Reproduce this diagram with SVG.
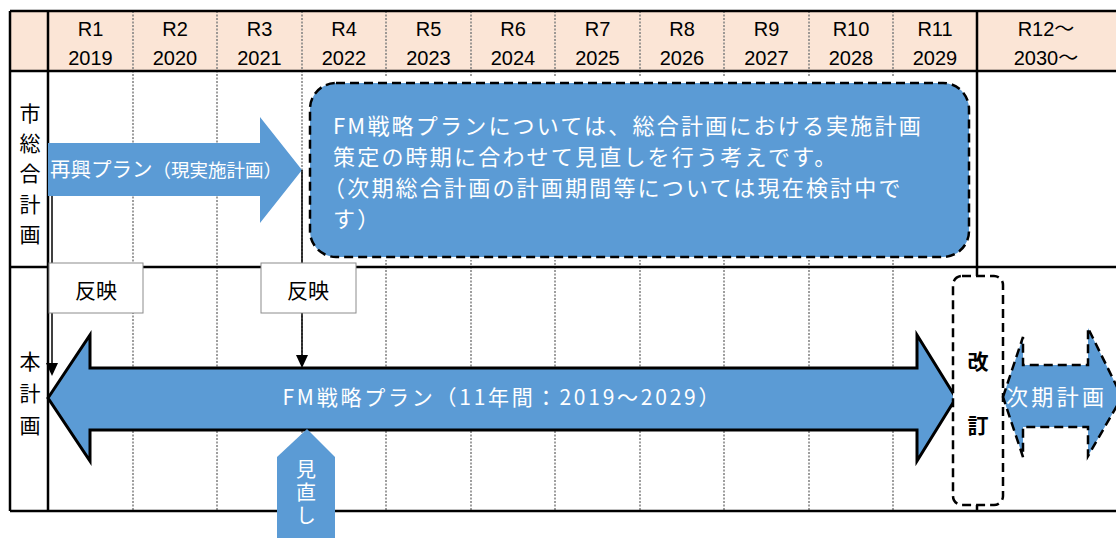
<svg xmlns="http://www.w3.org/2000/svg" width="1116" height="538" viewBox="0 0 1116 538">
<style>
.hdr{font-family:"Liberation Sans","Noto Sans CJK JP",sans-serif;font-size:20px;fill:#000;text-anchor:middle}
.lbl{font-family:"Noto Sans CJK JP",sans-serif;font-size:21px;fill:#000;text-anchor:middle;dominant-baseline:central}
.wt{font-family:"Noto Sans CJK JP",sans-serif;fill:#fff}
.line{stroke:#000;stroke-width:2.5;fill:none}
.dot{stroke:#7f7f7f;stroke-width:1.5;stroke-dasharray:2 1.5;fill:none}
.blue{fill:#5B9BD5}
.dash{stroke:#000;stroke-width:2.5;stroke-dasharray:9 5;fill:none}
.conn{stroke:#000;stroke-width:1.5;fill:none}
.box{fill:#fff;stroke:#8c8c8c;stroke-width:1}
</style>

<g id="table">
<rect x="10" y="11" width="1110" height="60" fill="#FBE5D6"/>
<g class="dot">
<line x1="133" y1="11" x2="133" y2="511"/>
<line x1="217" y1="11" x2="217" y2="511"/>
<line x1="302" y1="11" x2="302" y2="511"/>
<line x1="386" y1="11" x2="386" y2="511"/>
<line x1="471" y1="11" x2="471" y2="511"/>
<line x1="555" y1="11" x2="555" y2="511"/>
<line x1="640" y1="11" x2="640" y2="511"/>
<line x1="724" y1="11" x2="724" y2="511"/>
<line x1="809" y1="11" x2="809" y2="511"/>
<line x1="893" y1="11" x2="893" y2="511"/>
</g>
<rect x="303" y="76" width="668" height="184" fill="#fff"/>
<g class="line">
<line x1="10" y1="11" x2="1116" y2="11"/>
<line x1="10" y1="71" x2="1116" y2="71"/>
<line x1="10" y1="267" x2="1116" y2="267"/>
<line x1="10" y1="511" x2="1116" y2="511"/>
<line x1="10" y1="11" x2="10" y2="511"/>
<line x1="48" y1="11" x2="48" y2="511"/>
<line x1="977" y1="11" x2="977" y2="511"/>
</g>
</g>

<g id="header">
<text class="hdr" x="90.5" y="36">R1</text><text class="hdr" x="90.5" y="65">2019</text>
<text class="hdr" x="175" y="36">R2</text><text class="hdr" x="175" y="65">2020</text>
<text class="hdr" x="259.5" y="36">R3</text><text class="hdr" x="259.5" y="65">2021</text>
<text class="hdr" x="344" y="36">R4</text><text class="hdr" x="344" y="65">2022</text>
<text class="hdr" x="428.5" y="36">R5</text><text class="hdr" x="428.5" y="65">2023</text>
<text class="hdr" x="513" y="36">R6</text><text class="hdr" x="513" y="65">2024</text>
<text class="hdr" x="597.5" y="36">R7</text><text class="hdr" x="597.5" y="65">2025</text>
<text class="hdr" x="682" y="36">R8</text><text class="hdr" x="682" y="65">2026</text>
<text class="hdr" x="766.5" y="36">R9</text><text class="hdr" x="766.5" y="65">2027</text>
<text class="hdr" x="851" y="36">R10</text><text class="hdr" x="851" y="65">2028</text>
<text class="hdr" x="935" y="36">R11</text><text class="hdr" x="935" y="65">2029</text>
<text class="hdr" x="1046" y="36">R12～</text><text class="hdr" x="1046" y="65">2030～</text>
</g>

<g id="row-labels">
<text class="lbl" x="30" y="112">市</text>
<text class="lbl" x="30" y="142">総</text>
<text class="lbl" x="30" y="172">合</text>
<text class="lbl" x="30" y="203">計</text>
<text class="lbl" x="30" y="233">画</text>
<text class="lbl" x="30" y="360">本</text>
<text class="lbl" x="30" y="392">計</text>
<text class="lbl" x="30" y="424">画</text>
</g>

<g id="node-saiko">
<polygon class="blue" points="48,143 260,143 260,117 302,170 260,223 260,196 48,196"/>
<text class="wt" x="50" y="177"><tspan font-size="20.5">再興プラン</tspan><tspan font-size="18.5">（現実施計画）</tspan></text>
</g>

<g id="node-note">
<rect class="blue" x="310" y="83" width="659" height="174" rx="26"/>
<rect class="dash" x="310" y="83" width="659" height="174" rx="26"/>
<g class="wt" font-size="22" letter-spacing="2.2">
<text x="333" y="134">FM戦略プランについては、総合計画における実施計画</text>
<text x="333" y="165">策定の時期に合わせて見直しを行う考えです。</text>
<text x="323" y="196">（次期総合計画の計画期間等については現在検討中で</text>
<text x="333" y="227">す）</text>
</g>
</g>

<g id="connectors">
<line class="conn" x1="52" y1="196" x2="52" y2="263"/>
<line class="conn" x1="52" y1="313" x2="52" y2="363"/>
<path d="M46,363 L58,363 L52,376 Z" fill="#000"/>
<line class="conn" x1="302" y1="170" x2="302" y2="263"/>
<line class="conn" x1="302" y1="313" x2="302" y2="355"/>
<path d="M296,355 L308,355 L302,368 Z" fill="#000"/>
</g>

<g id="node-hanei1">
<rect class="box" x="49" y="263" width="94" height="50"/>
<text class="lbl" x="96" y="289" font-size="20">反映</text>
</g>
<g id="node-hanei2">
<rect class="box" x="261" y="263" width="95" height="50"/>
<text class="lbl" x="308" y="289" font-size="20">反映</text>
</g>

<g id="node-fm">
<polygon class="blue" stroke="#000" stroke-width="3" stroke-linejoin="miter" points="48,398 90,335 90,368 917,368 917,335 956,398 917,461 917,430 90,430 90,461"/>
<text class="wt" x="501" y="405" font-size="21" text-anchor="middle" textLength="437" lengthAdjust="spacing">FM戦略プラン（11年間：2019～2029）</text>
</g>

<g id="node-minaoshi">
<polygon class="blue" points="307,429 335,457 335,540 277,540 277,457"/>
<text class="wt" x="306" y="459" font-size="20" letter-spacing="3" writing-mode="vertical-rl">見直し</text>
</g>

<g id="node-kaitei">
<rect x="953" y="276" width="50" height="229" rx="9" fill="#fff"/>
<rect class="dash" x="953" y="276" width="50" height="229" rx="9"/>
<text class="lbl" x="978" y="360" font-weight="bold">改</text>
<text class="lbl" x="978" y="424" font-weight="bold">訂</text>
</g>

<g id="node-jiki">
<polygon class="blue" points="1003,397 1023,337 1023,365 1088,365 1088,328 1122,397 1088,456 1088,427 1023,427 1023,457"/>
<polygon class="dash" stroke-width="3" points="1003,397 1023,337 1023,365 1088,365 1088,328 1122,397 1088,456 1088,427 1023,427 1023,457"/>
<text class="wt" x="1006" y="405" font-size="22" textLength="98" lengthAdjust="spacing">次期計画</text>
</g>
</svg>
